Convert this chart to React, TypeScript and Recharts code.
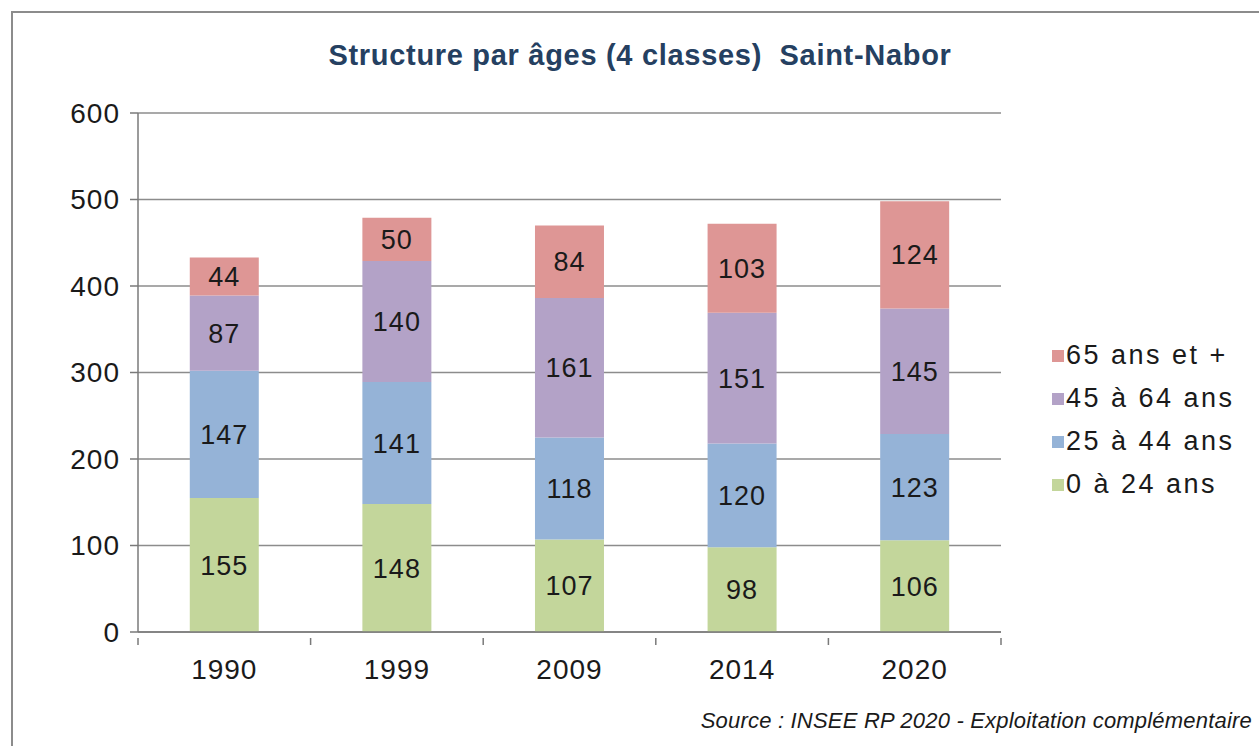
import React from 'react';
import { BarChart, Bar, XAxis, YAxis, CartesianGrid, LabelList } from 'recharts';

const years = ['1990', '1999', '2009', '2014', '2020'];
const age0to24 = [155, 148, 107, 98, 106];
const age25to44 = [147, 141, 118, 120, 123];
const age45to64 = [87, 140, 161, 151, 145];
const age65plus = [44, 50, 84, 103, 124];
const yTicks = [0, 100, 200, 300, 400, 500, 600];

const series = [
    { key: 'a0', name: '0 à 24 ans', color: '#c3d69b', values: age0to24 },
    { key: 'a25', name: '25 à 44 ans', color: '#95b3d7', values: age25to44 },
    { key: 'a45', name: '45 à 64 ans', color: '#b3a2c7', values: age45to64 },
    { key: 'a65', name: '65 ans et +', color: '#de9695', values: age65plus },
];

const data = years.map((year, i) => {
    const row: any = { year };
    series.forEach(s => { row[s.key] = s.values[i]; });
    return row;
});

const FONT = "'Liberation Sans', Arial, sans-serif";
const TEXT = '#1a1a1a';
const AXIS = '#7a7a7a';
const X_MARGIN = 20;

// year label + small tick marks on the category boundaries (Excel style)
const YearTick = (props: any) => {
    const { x, y, payload, index, visibleTicksCount } = props;
    const off = payload.offset || 0;
    const axisY = y - X_MARGIN;
    const last = index === visibleTicksCount - 1;
    return (
        <g>
            <line x1={x - off} y1={axisY} x2={x - off} y2={axisY + 7} stroke={AXIS} strokeWidth={1.5} />
            {last && <line x1={x + off} y1={axisY} x2={x + off} y2={axisY + 7} stroke={AXIS} strokeWidth={1.5} />}
            <text x={x} y={y} dy="0.75em" textAnchor="middle" fill={TEXT} fontSize={28} fontFamily={FONT} letterSpacing={1}>
                {payload.value}
            </text>
        </g>
    );
};

const App = () => {
    return (
        <div style={{ position: 'absolute', left: 0, top: 0, width: 1259, height: 746, background: '#fff', overflow: 'hidden' }}>
            <div style={{ position: 'absolute', left: 11, top: 11, width: 1300, height: 800, borderLeft: '2px solid #8c8c8c', borderTop: '2px solid #8c8c8c' }} />
            <div style={{
                position: 'absolute', left: 0, width: 1280, top: 39, textAlign: 'center',
                fontFamily: FONT, fontWeight: 'bold', fontSize: 29, color: '#254061', letterSpacing: 0.7,
            }}>
                Structure par âges (4 classes)&nbsp; Saint-Nabor
            </div>
            <BarChart
                width={1259}
                height={746}
                data={data}
                margin={{ top: 113, right: 258, bottom: 74, left: 78 }}
                barCategoryGap="30%"
                style={{ position: 'absolute', left: 0, top: 0 }}
            >
                <CartesianGrid vertical={false} stroke="#8c8c8c" strokeWidth={1.5} />
                <XAxis
                    dataKey="year"
                    tickLine={false}
                    axisLine={{ stroke: AXIS, strokeWidth: 1.5 }}
                    tick={<YearTick />}
                    tickMargin={X_MARGIN}
                    height={40}
                />
                <YAxis
                    domain={[0, 600]}
                    ticks={yTicks}
                    width={60}
                    axisLine={{ stroke: AXIS, strokeWidth: 1.5 }}
                    tickLine={{ stroke: AXIS, strokeWidth: 1.5 }}
                    tickSize={8}
                    tickMargin={10}
                    tick={{ fill: TEXT, fontSize: 28, fontFamily: FONT, letterSpacing: 1 }}
                />
                {series.map(s => (
                    <Bar key={s.key} dataKey={s.key} name={s.name} stackId="a" fill={s.color} isAnimationActive={false}>
                        <LabelList dataKey={s.key} position="center" fill={TEXT} fontSize={27} fontFamily={FONT} letterSpacing={1} />
                    </Bar>
                ))}
            </BarChart>
            {/* legend, top-down in reverse stacking order */}
            <div style={{ position: 'absolute', left: 1052, top: 334, fontFamily: FONT, fontSize: 27, color: TEXT, letterSpacing: 2.5 }}>
                {[...series].reverse().map(s => (
                    <div key={s.key} style={{ display: 'flex', alignItems: 'center', height: 43 }}>
                        <span style={{ width: 12, height: 12, background: s.color, marginRight: 2, display: 'inline-block' }} />
                        <span>{s.name}</span>
                    </div>
                ))}
            </div>
            <div style={{
                position: 'absolute', right: 7, top: 708,
                fontFamily: FONT, fontStyle: 'italic', fontSize: 22, color: TEXT, letterSpacing: 0.2,
            }}>
                Source : INSEE RP 2020 - Exploitation complémentaire
            </div>
        </div>
    );
};

export default App;
